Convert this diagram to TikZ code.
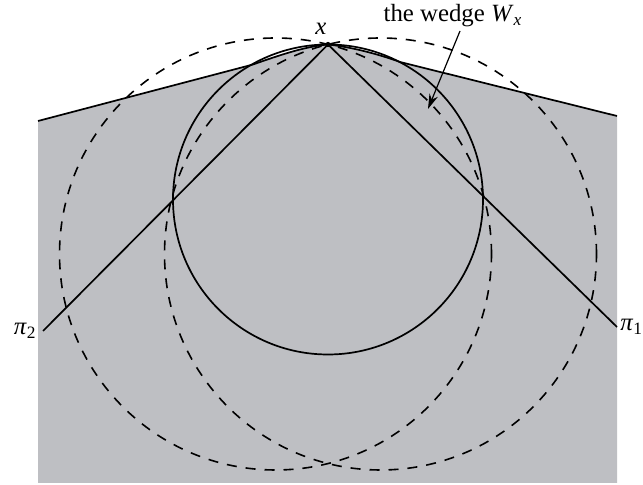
\documentclass[tikz,border=0pt]{standalone}
\usepackage{fontspec}
\setmainfont{Liberation Serif}
\usetikzlibrary{arrows.meta}
\definecolor{regiongray}{RGB}{190,191,195}
\begin{document}
\begin{tikzpicture}[x=0.5pt,y=-0.5pt,
  solidline/.style={line width=0.85pt, black},
  dashline/.style={line width=0.8pt, black, dash pattern=on 5pt off 4.5pt},
  lbl/.style={font=\fontsize{12.4}{14}\selectfont, inner sep=0pt}]
\useasboundingbox (0,0) rectangle (643,485);
% points
\coordinate (x) at (328,44.5);
\coordinate (bl) at (38,121);
\coordinate (ml) at (253,64.5);
\coordinate (mr) at (400,62);
\coordinate (br) at (617,116);
\coordinate (p2end) at (43,331);
\coordinate (p1end) at (617,327);
% region
\fill[regiongray] (bl) -- (ml) .. controls (280,55) and (305,46.5) .. (x)
  .. controls (350,47) and (375,53) .. (mr) -- (br) -- (617,483) -- (38,483) -- cycle;
\draw[solidline] (bl) -- (ml) .. controls (280,55) and (305,46.5) .. (x)
  .. controls (350,47) and (375,53) .. (mr) -- (br);
% circles
\draw[solidline] (328,199.5) circle[radius=77.5pt];
\draw[dashline] (275.5,254) circle[radius=108pt];
\draw[dashline] (380.5,254) circle[radius=108pt];
% wedge lines
\draw[solidline] (x) -- (p2end);
\draw[solidline] (x) -- (p1end);
% point x
\node[circle, fill=black, inner sep=0pt, minimum size=2.6pt] (xdot) at (x) {};
\node[lbl] (xlbl) at (321,29) {\textit{x}};
\node[lbl, anchor=east] (p2lbl) at (37,331) {\textit{π}\textsubscript{2}};
\node[lbl, anchor=west] (p1lbl) at (620,327) {\textit{π}\textsubscript{1}};
% wedge label and arrow
\node[lbl] (wlbl) at (453,16) {the wedge \textit{W}\textsubscript{\textit{x}}};
\coordinate (wstart) at (460,31);
\coordinate (wtip) at (428,109);
\draw[line width=0.6pt, -{Stealth[length=7.5pt,width=4.5pt]}] (wstart) -- (wtip);
\end{tikzpicture}
\end{document}
